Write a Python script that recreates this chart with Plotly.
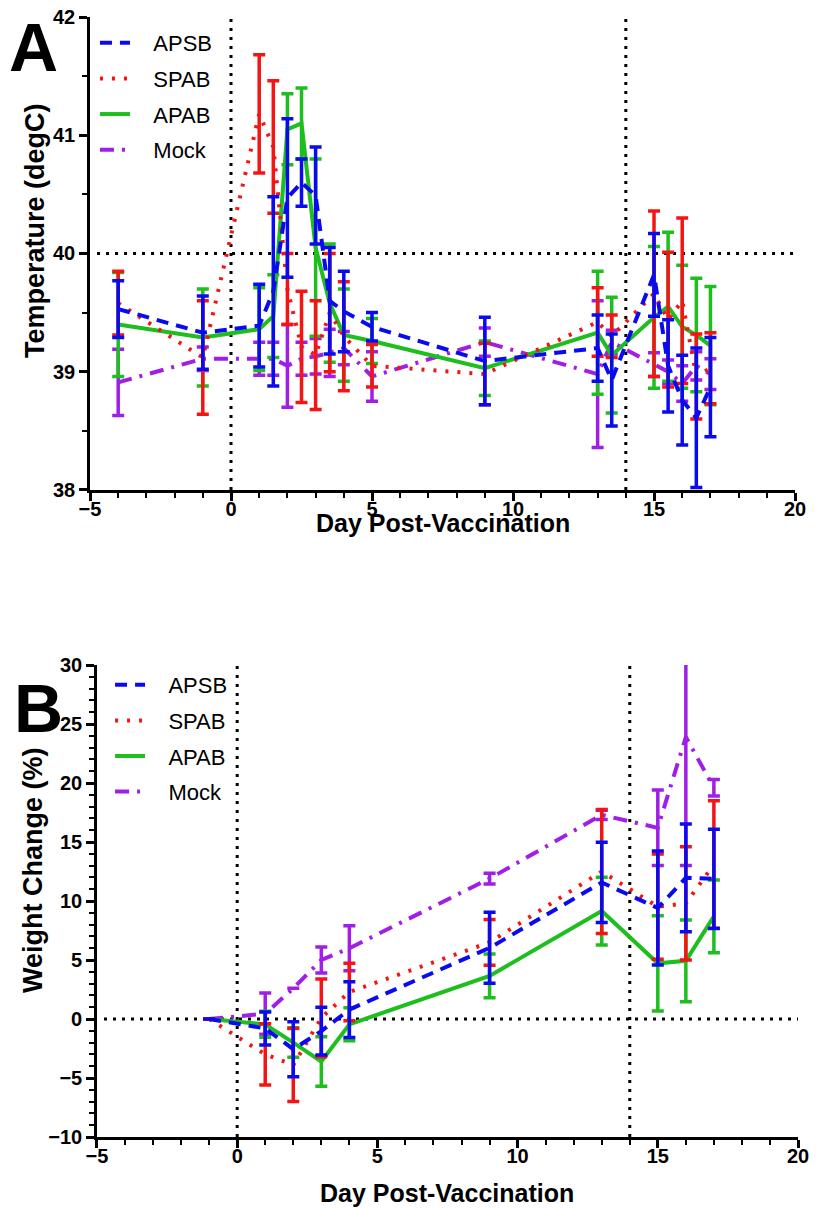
import plotly.graph_objects as go

# ---------------- Panel A: temperature ----------------
days_A = [-4, -1, 1, 1.5, 2, 2.5, 3, 3.5, 4, 5, 9, 13, 13.5, 15, 15.5, 16, 16.5, 17]

apsb_A = [39.53, 39.33, 39.39, 39.68, 40.47, 40.60, 40.49, 39.60, 39.51, 39.38, 39.09, 39.20, 38.93, 39.82, 39.05, 38.76, 38.61, 38.87]
apsb_A_err = [0.24, 0.31, 0.35, 0.80, 0.67, 0.20, 0.41, 0.45, 0.34, 0.12, 0.37, 0.28, 0.39, 0.35, 0.39, 0.38, 0.59, 0.42]

spab_A = [39.58, 39.12, 41.18, 40.90, 39.70, 39.21, 39.14, 39.50, 39.30, 39.05, 38.98, 39.42, 39.30, 39.66, 39.44, 39.60, 38.96, 39.03]
spab_A_err = [0.27, 0.48, 0.50, 0.56, 0.30, 0.47, 0.46, 0.50, 0.46, 0.18, 0.26, 0.29, 0.18, 0.70, 0.57, 0.70, 0.36, 0.30]

apab_A = [39.40, 39.29, 39.36, 39.47, 41.05, 41.10, 40.05, 39.58, 39.31, 39.26, 39.03, 39.33, 39.14, 39.46, 39.55, 39.38, 39.31, 39.22]
apab_A_err = [0.44, 0.41, 0.35, 0.35, 0.30, 0.30, 0.75, 0.50, 0.39, 0.19, 0.23, 0.52, 0.49, 0.60, 0.63, 0.52, 0.48, 0.50]

mock_A = [38.91, 39.11, 39.11, 39.11, 39.05, 39.11, 39.13, 39.16, 39.20, 38.96, 39.25, 38.98, 39.25, 39.06, 39.00, 38.90, 39.05, 38.98]
mock_A_err = [0.28, 0.10, 0.14, 0.14, 0.35, 0.14, 0.15, 0.20, 0.14, 0.21, 0.12, 0.62, 0.10, 0.10, 0.10, 0.15, 0.12, 0.13]

# ---------------- Panel B: weight change ----------------
days_B = [-1, 1, 2, 3, 4, 9, 13, 15, 16, 17]

apsb_B = [0, -0.8, -2.56, -1.03, 0.8, 6.03, 11.57, 9.41, 11.96, 11.88]
apsb_B_err = [None, 1.4, 2.33, 2.02, 2.36, 3.01, 3.4, 4.83, 4.56, 4.2]

spab_B = [0, -3.0, -3.9, 0.1, 2.29, 6.5, 12.5, 9.52, 9.8, 13.1]
spab_B_err = [None, 2.6, 3.1, 3.3, 2.43, 1.94, 5.25, 4.46, 4.8, 5.4]

apab_B = [0, -0.45, -2.0, -3.6, -0.45, 3.65, 9.15, 4.72, 4.93, 8.7]
apab_B_err = [None, 1.1, 1.25, 2.1, 1.4, 1.85, 2.87, 4.04, 3.46, 3.08]

mock_B = [0, 0.45, 2.6, 5.0, 6.0, 11.9, 17.3, 16.2, 23.9, 19.6]
mock_B_err = [None, 1.75, None, 1.1, 1.9, 0.45, 0.4, 3.2, 10.9, 0.7]

groups = ["APSB", "SPAB", "APAB", "Mock"]
colors = {"APSB": "#0A0AF0", "SPAB": "#F51414", "APAB": "#1EBE1E", "Mock": "#A01EE6"}
dashes = {"APSB": "12px,8px", "SPAB": "3px,9px", "APAB": "solid", "Mock": "14px,8px,3px,8px"}
ranks = {"APSB": 1, "SPAB": 2, "APAB": 3, "Mock": 4}

data_A = {"APSB": (apsb_A, apsb_A_err), "SPAB": (spab_A, spab_A_err),
          "APAB": (apab_A, apab_A_err), "Mock": (mock_A, mock_A_err)}
data_B = {"APSB": (apsb_B, apsb_B_err), "SPAB": (spab_B, spab_B_err),
          "APAB": (apab_B, apab_B_err), "Mock": (mock_B, mock_B_err)}

FONT = "Arial, Liberation Sans, sans-serif"
NB = "\u00a0\u00a0\u00a0"

fig = go.Figure()
draw_order = ["Mock", "APAB", "SPAB", "APSB"]
for panel, days, data, xa, ya, leg in [("A", days_A, data_A, "x", "y", "legend"),
                                       ("B", days_B, data_B, "x2", "y2", "legend2")]:
    for g in draw_order:
        vals, errs = data[g]
        fig.add_trace(go.Scatter(
            x=days, y=vals, mode="lines", name=NB + g,
            xaxis=xa, yaxis=ya, legend=leg, legendrank=ranks[g], legendgroup=panel + g,
            line=dict(color=colors[g], width=4, dash=dashes[g]),
            error_y=dict(type="data", array=errs, visible=True, color=colors[g],
                         thickness=3.5, width=6),
        ))

axis_common = dict(showline=True, linecolor="black", linewidth=2.5, showgrid=False,
                   zeroline=False, ticks="outside", ticklen=8, tickwidth=2.5, tickcolor="black",
                   automargin=False, ticklabeloverflow="allow",
                   tickfont=dict(family=FONT, size=20, color="black", weight="bold"))
minor_x = dict(dtick=1, ticklen=5, tickwidth=2, tickcolor="black", ticks="outside")

# The page body has an 8px margin; the figure is sized so that it fills the 819x1208 window.
fig.update_layout(
    width=811, height=1200,
    margin=dict(l=82, r=20, t=9, b=71, autoexpand=False),
    paper_bgcolor="white", plot_bgcolor="white",
    xaxis=dict(domain=[0, 0.9944], anchor="y", range=[-5, 20], dtick=5, tick0=-5,
               minor=minor_x, ticklabelstandoff=-9, **axis_common),
    yaxis=dict(domain=[0.5777, 1], anchor="x", range=[38, 42], dtick=1,
               minor=dict(dtick=0.5, ticklen=5, tickwidth=2, tickcolor="black", ticks="outside"),
               **axis_common),
    xaxis2=dict(domain=[0.00987, 0.9986], anchor="y2", range=[-5, 20], dtick=5, tick0=-5,
                minor=minor_x, ticklabelstandoff=-9, **axis_common),
    yaxis2=dict(domain=[0, 0.4214], anchor="x2", range=[-10, 30], dtick=5,
                minor=dict(dtick=1, ticklen=5, tickwidth=2, tickcolor="black", ticks="outside"),
                **axis_common),
    legend=dict(x=0.007, y=0.9955, xanchor="left", yanchor="top", bgcolor="rgba(0,0,0,0)",
                font=dict(family=FONT, size=22, color="black"), tracegroupgap=4),
    legend2=dict(x=0.0283, y=0.4223, xanchor="left", yanchor="top", bgcolor="rgba(0,0,0,0)",
                 font=dict(family=FONT, size=22, color="black"), tracegroupgap=4),
    showlegend=True,
)

dot = dict(color="black", width=3, dash="3px,6px")
shapes = []
for xa, ya, yref_val in [("x", "y", 40), ("x2", "y2", 0)]:
    for xv in [0, 14]:
        shapes.append(dict(type="line", xref=xa, yref=ya + " domain", x0=xv, x1=xv, y0=0, y1=1,
                           line=dot, layer="below"))
    shapes.append(dict(type="line", xref=xa + " domain", yref=ya, x0=0.01, x1=1, y0=yref_val,
                       y1=yref_val, line=dot, layer="below"))
fig.update_layout(shapes=shapes)

# helpers: window pixel -> paper fraction (plot area spans window x 90..799, y 17..1137)
def px_x(p):
    return (p - 90) / 709

def px_y(p):
    return (1137 - p) / 1120

title_font = dict(family=FONT, size=25, color="black", weight="bold")
ytitle_font = dict(family=FONT, size=27, color="black", weight="bold")
letter_font = dict(family=FONT, size=68, color="black", weight="bold")
annotations = [
    dict(text="A", x=px_x(33), y=px_y(47), xref="paper", yref="paper", showarrow=False,
         font=letter_font, xanchor="center", yanchor="middle"),
    dict(text="B", x=px_x(38), y=px_y(708), xref="paper", yref="paper", showarrow=False,
         font=letter_font, xanchor="center", yanchor="middle"),
    dict(text="Day Post-Vaccination", x=px_x(443), y=px_y(523), xref="paper", yref="paper",
         showarrow=False, font=title_font, xanchor="center", yanchor="middle"),
    dict(text="Day Post-Vaccination", x=px_x(447), y=px_y(1193), xref="paper", yref="paper",
         showarrow=False, font=title_font, xanchor="center", yanchor="middle"),
    dict(text="Temperature (degC)", x=px_x(35), y=px_y(231), xref="paper", yref="paper",
         showarrow=False, textangle=-90, font=ytitle_font, xanchor="center", yanchor="middle"),
    dict(text="Weight Change (%)", x=px_x(33), y=px_y(870), xref="paper", yref="paper",
         showarrow=False, textangle=-90, font=ytitle_font, xanchor="center", yanchor="middle"),
]
fig.update_layout(annotations=annotations)

fig.write_html("out.html")
